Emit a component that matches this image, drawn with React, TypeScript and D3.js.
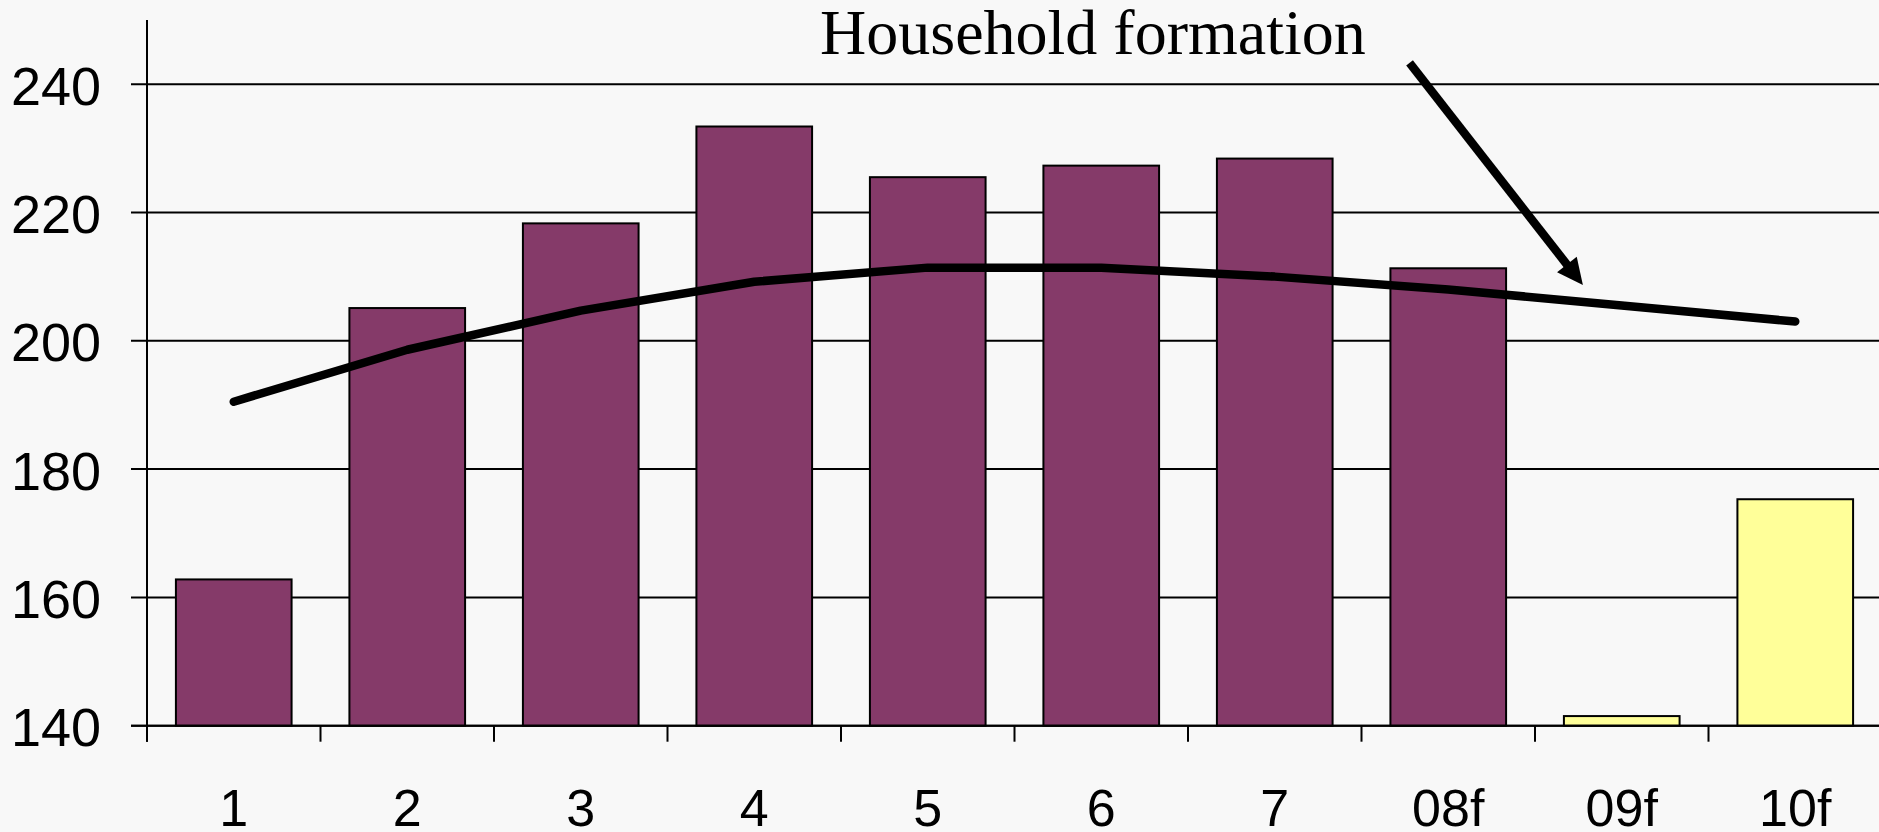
import React from "react";
import * as d3 from "d3";

const categories = ["1", "2", "3", "4", "5", "6", "7", "08f", "09f", "10f"];
const barValues = [162.8, 205.1, 218.3, 233.4, 225.5, 227.3, 228.4, 211.3, 141.5, 175.3];
const forecastFlags = [false, false, false, false, false, false, false, false, true, true];
const householdFormation = [190.5, 198.6, 204.7, 209.2, 211.4, 211.4, 210.0, 208.0, 205.5, 203.0];
const yTicks = [140, 160, 180, 200, 220, 240];
const yDomain: [number, number] = [140, 250];
const titleText = "Household formation";
// arrow annotation, in (category index, value) units
const arrowFrom: [number, number] = [6.777, 243.3];
const arrowTo: [number, number] = [7.776, 208.7];

const W = 1879;
const H = 832;
const BG = "#f8f8f8";
const PURPLE = "#853a69";
const YELLOW = "#ffff99";

export default function App() {
  const left = 147;
  const right = 1882;
  const top = 20;
  const bottom = 725.7;

  const x = d3
    .scaleBand<string>()
    .domain(categories)
    .range([left, right])
    .paddingInner(1 / 3)
    .paddingOuter(1 / 6);
  const step = x.step();
  const bw = x.bandwidth();
  const xi = d3
    .scaleLinear()
    .domain([-0.5, categories.length - 0.5])
    .range([left, left + step * categories.length]);
  const y = d3.scaleLinear().domain(yDomain).range([bottom, top]);

  const line = d3
    .line<number>()
    .x((_, i) => (x(categories[i]) as number) + bw / 2)
    .y((d) => y(d));

  const boundaries = d3.range(categories.length + 1).map((i) => left + i * step);

  // arrow geometry
  const ax1 = xi(arrowFrom[0]);
  const ay1 = y(arrowFrom[1]);
  const ax2 = xi(arrowTo[0]);
  const ay2 = y(arrowTo[1]);
  const dx = ax2 - ax1;
  const dy = ay2 - ay1;
  const len = Math.hypot(dx, dy);
  const ux = dx / len;
  const uy = dy / len;
  const headLen = 26;
  const headHalf = 12.5;
  const bx = ax2 - ux * headLen;
  const by = ay2 - uy * headLen;
  const head = [
    [ax2, ay2],
    [bx - uy * headHalf, by + ux * headHalf],
    [bx + uy * headHalf, by - ux * headHalf],
  ]
    .map((p) => p.join(","))
    .join(" ");

  return (
    <svg
      width={W}
      height={H}
      style={{ position: "fixed", left: 0, top: 0, display: "block" }}
      fontFamily="'Liberation Sans', Arial, sans-serif"
    >
      <rect x={0} y={0} width={W} height={H} fill={BG} />
      {/* gridlines */}
      {yTicks.map((t) => (
        <line key={"g" + t} x1={131} x2={W} y1={y(t)} y2={y(t)} stroke="#000" strokeWidth={2} />
      ))}
      {/* y tick labels */}
      {yTicks.map((t) => (
        <text key={"yl" + t} x={101} y={y(t) + 20.5} textAnchor="end" fontSize={54} fill="#000">
          {t}
        </text>
      ))}
      {/* bars */}
      {categories.map((c, i) => (
        <rect
          key={"b" + c}
          x={x(c)}
          y={y(barValues[i])}
          width={bw}
          height={bottom - y(barValues[i])}
          fill={forecastFlags[i] ? YELLOW : PURPLE}
          stroke="#000"
          strokeWidth={2}
        />
      ))}
      {/* y axis */}
      <line x1={left} x2={left} y1={top} y2={bottom + 16} stroke="#000" strokeWidth={2} />
      {/* x axis */}
      <line x1={131} x2={W} y1={bottom} y2={bottom} stroke="#000" strokeWidth={2} />
      {boundaries.map((bxv, i) => (
        <line key={"xt" + i} x1={bxv} x2={bxv} y1={bottom} y2={bottom + 16} stroke="#000" strokeWidth={2} />
      ))}
      {/* x labels */}
      {categories.map((c) => (
        <text key={"xl" + c} x={(x(c) as number) + bw / 2} y={826} textAnchor="middle" fontSize={52} fill="#000">
          {c}
        </text>
      ))}
      {/* household formation line */}
      <path
        d={line(householdFormation) || ""}
        fill="none"
        stroke="#000"
        strokeWidth={8.5}
        strokeLinecap="round"
        strokeLinejoin="round"
      />
      {/* annotation */}
      <text x={820} y={53.5} fontFamily="'Liberation Serif', 'Times New Roman', serif" fontSize={64} fill="#000">
        {titleText}
      </text>
      <line x1={ax1} y1={ay1} x2={bx + ux * 2} y2={by + uy * 2} stroke="#000" strokeWidth={8.5} />
      <polygon points={head} fill="#000" />
    </svg>
  );
}
